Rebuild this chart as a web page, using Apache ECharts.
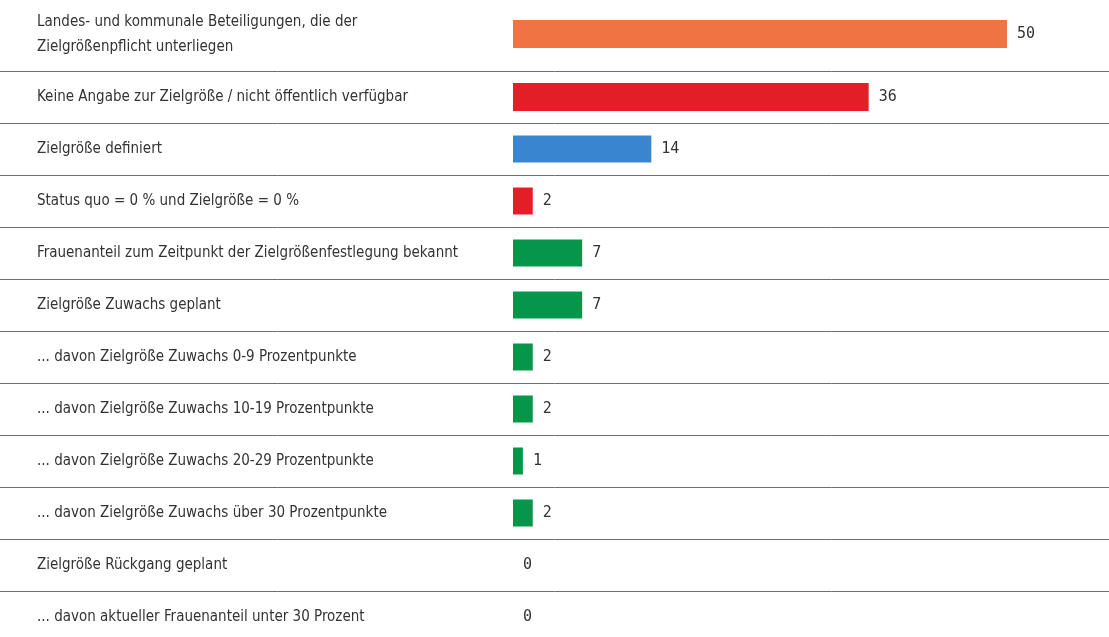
<!DOCTYPE html>
<html>
<head>
<meta charset="utf-8">
<script src="https://cdn.jsdelivr.net/npm/echarts@6/dist/echarts.min.js"></script>
<style>
html,body{margin:0;padding:0;background:#fff;}
#chart{width:1109px;height:637px;}
</style>
</head>
<body>
<div id="chart"></div>
<script>
const categories = [
  "Landes- und kommunale Beteiligungen, die der\nZielgrößenpflicht unterliegen",
  "Keine Angabe zur Zielgröße / nicht öffentlich verfügbar",
  "Zielgröße definiert",
  "Status quo = 0 % und Zielgröße = 0 %",
  "Frauenanteil zum Zeitpunkt der Zielgrößenfestlegung bekannt",
  "Zielgröße Zuwachs geplant",
  "... davon Zielgröße Zuwachs 0-9 Prozentpunkte",
  "... davon Zielgröße Zuwachs 10-19 Prozentpunkte",
  "... davon Zielgröße Zuwachs 20-29 Prozentpunkte",
  "... davon Zielgröße Zuwachs über 30 Prozentpunkte",
  "Zielgröße Rückgang geplant",
  "... davon aktueller Frauenanteil unter 30 Prozent"
];
const values = [50, 36, 14, 2, 7, 7, 2, 2, 1, 2, 0, 0];
const barColors = ["#F07443", "#E31E26", "#3A86CE", "#E31E26", "#05964A", "#05964A",
                   "#05964A", "#05964A", "#05964A", "#05964A", "#05964A", "#05964A"];

const LABEL_FONT = '"Liberation Sans Narrow", "DejaVu Sans Condensed", sans-serif';
const NUM_FONT = '"DejaVu Sans Mono", monospace';

const chart = echarts.init(document.getElementById('chart'), null, {renderer: 'canvas'});
const gridTop = 19, gridHeight = 624;

const option = {
  animation: false,
  backgroundColor: '#ffffff',
  grid: [
    {left: 0, right: 0, top: gridTop, height: gridHeight, containLabel: false, outerBoundsMode: 'none'},
    {left: 513, width: 494, top: gridTop, height: gridHeight, containLabel: false, outerBoundsMode: 'none'}
  ],
  xAxis: [
    {gridIndex: 0, type: 'value', min: 0, max: 1, show: false},
    {gridIndex: 1, type: 'value', min: 0, max: 50, show: false}
  ],
  yAxis: [
    {
      gridIndex: 0, type: 'category', inverse: true, boundaryGap: true,
      data: categories,
      axisLine: {show: false}, axisTick: {show: false},
      splitLine: {show: true, showMinLine: false, showMaxLine: false,
                  lineStyle: {color: '#6e6e6e', width: 1}},
      axisLabel: {
        inside: true, margin: 37, color: '#333333', fontSize: 15,
        fontFamily: LABEL_FONT, align: 'left',
        formatter: function (value, index) {
          if (index === 0) {
            return value.split('\n').map(l => '{first|' + l + '}').join('\n') + '\n{sp| }';
          }
          return value;
        },
        rich: {
          first: {lineHeight: 25, fontSize: 15, fontFamily: LABEL_FONT, color: '#333333'},
          sp: {lineHeight: 20, fontSize: 10}
        }
      }
    },
    {
      gridIndex: 1, type: 'category', inverse: true, boundaryGap: true,
      data: categories, show: false
    }
  ],
  series: [{
    type: 'custom',
    xAxisIndex: 1, yAxisIndex: 1,
    encode: {x: 0, y: 1},
    data: values.map((v, i) => [v, i]),
    renderItem: function (params, api) {
      const val = api.value(0);
      const idx = api.value(1);
      const p0 = api.coord([0, idx]);
      const p1 = api.coord([val, idx]);
      const dy = params.dataIndex === 0 ? -11 : 0;
      const h = params.dataIndex < 2 ? 28 : 27;
      const cy = p0[1] + dy;
      const children = [];
      if (val > 0) {
        children.push({
          type: 'rect',
          shape: {x: p0[0], y: cy - h / 2, width: p1[0] - p0[0], height: h},
          style: {fill: barColors[params.dataIndex]}
        });
      }
      children.push({
        type: 'text',
        style: {
          text: String(val), x: p1[0] + 10, y: cy,
          verticalAlign: 'middle', align: 'left',
          font: '15px ' + NUM_FONT, fill: '#333333'
        }
      });
      return {type: 'group', children: children};
    }
  }]
};
chart.setOption(option);
</script>
</body>
</html>
